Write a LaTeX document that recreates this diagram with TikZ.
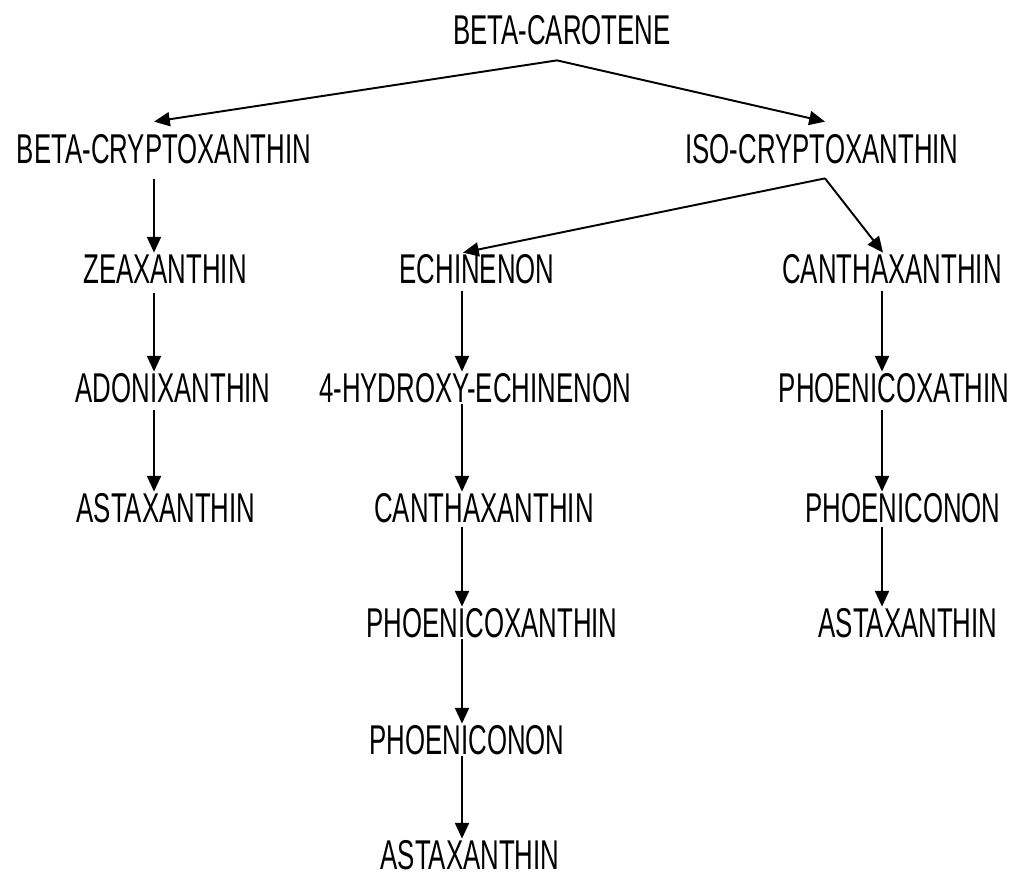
\documentclass[tikz,border=0pt]{standalone}
\usepackage{fontspec}
\setmainfont{Liberation Sans}[FakeStretch=0.62]
\usepackage{tikz}
\usetikzlibrary{arrows.meta,calc}

\begin{document}
\begin{tikzpicture}[x=0.02cm, y=-0.02cm]%
  \tikzset{normal arrow/.style={draw,-{Triangle[length=9pt,width=8pt]},line width=1.1pt,black}}
  \tikzstyle{every node}=[draw=none, text=black, inner sep=0pt, outer sep=0pt, text height=17.5pt, text depth=0pt, font=\fontsize{23.7}{28}\selectfont]
  \useasboundingbox (0,0) rectangle (1023,875);

  % columns of the vertical arrows
  \coordinate (colA) at (154,0);
  \coordinate (colB) at (462,0);
  \coordinate (colC) at (882,0);

  \node at (562,29) (bcar) {BETA-CAROTENE};
  \node at (164,148) (bcry) {BETA-CRYPTOXANTHIN};
  \node at (822,148) (iso)  {ISO-CRYPTOXANTHIN};

  \node at (165,268) (zea)  {ZEAXANTHIN};
  \node at (173,387) (adon) {ADONIXANTHIN};
  \node at (166,507) (astA) {ASTAXANTHIN};

  \node at (477,268) (echi) {ECHINENON};
  \node at (475,387) (hech) {4-HYDROXY-ECHINENON};
  \node at (484,507) (canB) {CANTHAXANTHIN};
  \node at (492,622) (phxB) {PHOENICOXANTHIN};
  \node at (467,739) (phnB) {PHOENICONON};
  \node at (470,854) (astB) {ASTAXANTHIN};

  \node at (892,268) (canC) {CANTHAXANTHIN};
  \node at (894,387) (phxC) {PHOENICOXATHIN};
  \node at (903,507) (phnC) {PHOENICONON};
  \node at (908,622) (astC) {ASTAXANTHIN};

  % forks
  \coordinate (topfork) at ($(bcar.south)+(-5,16)$);
  \coordinate (isofork) at ($(iso.south)+(3,15)$);
  \path[normal arrow] (topfork) -- ($(bcry.north -| colA)+(0,-11)$);
  \path[normal arrow] (topfork) -- ($(iso.north)+(3,-11)$);
  \path[normal arrow] (isofork) -- ($(echi.north)+(-14,0)$);
  \path[normal arrow] (isofork) -- ($(canC.north)+(-9,0)$);

  % left column
  \path[normal arrow] ($(bcry.south -| colA)+(0,16)$) -- (zea.north -| colA);
  \path[normal arrow] ($(zea.south -| colA)+(0,10)$) -- (adon.north -| colA);
  \path[normal arrow] ($(adon.south -| colA)+(0,8)$) -- (astA.north -| colA);

  % middle column
  \path[normal arrow] ($(echi.south -| colB)+(0,8)$) -- (hech.north -| colB);
  \path[normal arrow] ($(hech.south -| colB)+(0,2)$) -- (canB.north -| colB);
  \path[normal arrow] ($(canB.south -| colB)+(0,5)$) -- (phxB.north -| colB);
  \path[normal arrow] ($(phxB.south -| colB)+(0,2)$) -- (phnB.north -| colB);
  \path[normal arrow] ($(phnB.south -| colB)+(0,2)$) -- (astB.north -| colB);

  % right column
  \path[normal arrow] ($(canC.south -| colC)+(0,8)$) -- (phxC.north -| colC);
  \path[normal arrow] ($(phxC.south -| colC)+(0,8)$) -- (phnC.north -| colC);
  \path[normal arrow] ($(phnC.south -| colC)+(0,5)$) -- (astC.north -| colC);
\end{tikzpicture}
\end{document}
